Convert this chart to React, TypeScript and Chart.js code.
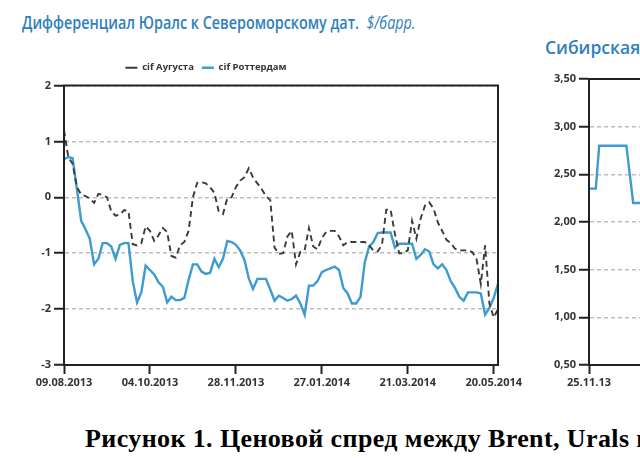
import { useEffect, useRef } from 'react'
import Chart from 'chart.js/auto'

// Left chart: Urals differential vs North Sea dated, $/bbl
const dateLabels = ['09.08.2013', '04.10.2013', '28.11.2013', '27.01.2014', '21.03.2014', '20.05.2014']
const dateTickIdx = [0, 40, 80, 120, 160, 200]
const STEP = 2 // trading days between points

const cifAugusta = [
  1.2, 0.72, 0.6, 0.18, 0.05, 0.02, -0.02, -0.1, 0.06, 0.04,
  0.0, -0.25, -0.33, -0.31, -0.23, -0.25, -0.84, -0.86, -0.82, -0.52,
  -0.6, -0.78, -0.68, -0.55, -0.62, -1.05, -1.08, -0.86, -0.8, -0.6,
  0.0, 0.26, 0.27, 0.25, 0.18, 0.08, -0.25, -0.3, -0.02, 0.0,
  0.18, 0.3, 0.36, 0.52, 0.35, 0.25, 0.15, 0.02, -0.05, -0.9,
  -1.01, -1.0, -0.7, -0.6, -1.2, -0.98, -0.95, -0.55, -0.88, -0.93,
  -0.73, -0.62, -0.6, -0.6, -0.7, -0.86, -0.8, -0.8, -0.8, -0.8,
  -0.8, -0.86, -0.95, -0.97, -0.85, -0.22, -0.22, -0.65, -1.0, -1.0,
  -0.95, -0.42, -0.74, -0.38, -0.15, -0.09, -0.2, -0.45, -0.6, -0.76,
  -0.82, -0.92, -0.95, -0.95, -0.95, -0.98, -1.1, -1.55, -0.86, -1.9,
  -2.15, -2.0,
]

const cifRotterdam = [
  0.68, 0.72, 0.7, 0.15, -0.42, -0.57, -0.74, -1.2, -1.1, -0.82,
  -0.82, -0.88, -1.1, -0.85, -0.82, -0.82, -1.5, -1.88, -1.7, -1.22,
  -1.3, -1.38, -1.52, -1.6, -1.88, -1.78, -1.84, -1.84, -1.8, -1.48,
  -1.2, -1.2, -1.33, -1.37, -1.35, -1.1, -1.25, -1.1, -0.78, -0.8,
  -0.85, -0.95, -1.12, -1.45, -1.64, -1.46, -1.46, -1.46, -1.65, -1.85,
  -1.76, -1.8, -1.85, -1.82, -1.76, -1.9, -2.1, -1.58, -1.58, -1.5,
  -1.34, -1.3, -1.27, -1.24, -1.3, -1.62, -1.72, -1.9, -1.9, -1.78,
  -1.16, -0.88, -0.8, -0.64, -0.63, -0.63, -0.63, -0.9, -0.83, -0.83,
  -0.83, -0.83, -1.1, -1.03, -0.93, -0.97, -1.2, -1.27, -1.2, -1.3,
  -1.5, -1.62, -1.78, -1.85, -1.7, -1.7, -1.7, -1.72, -2.1, -1.98,
  -1.8, -1.55,
]

// Right chart (cut off at the page edge)
const sibTickLabels = ['25.11.13']
const sibValues = [2.35, 2.35, 2.35, 2.8, 2.8, 2.8, 2.8, 2.8, 2.8, 2.8, 2.8, 2.8, 2.5, 2.2, 2.2, 2.2, 2.2]

const BLUE = '#3d9bd0'
const AXIS = '#222'
const LABEL_FONT = { family: 'Open Sans', size: 11, weight: 'bold' as const }

const framePlugin = {
  id: 'frame',
  afterDraw(chart: Chart) {
    const { ctx, chartArea: a } = chart
    ctx.save()
    ctx.strokeStyle = AXIS
    ctx.lineWidth = 2
    ctx.strokeRect(a.left, a.top, a.right - a.left, a.bottom - a.top)
    ctx.restore()
  },
}

// the legend in the source sits left of centre and a bit higher
const legendShift = {
  id: 'legendShift',
  afterLayout(chart: Chart) {
    const lg = chart.legend
    if (!lg) return
    lg.left -= 43
    lg.right -= 43
    lg.top -= 3
    lg.bottom -= 3
  },
}

function UralsChart() {
  const canvasRef = useRef<HTMLCanvasElement>(null)

  useEffect(() => {
    if (!canvasRef.current) return
    const chart = new Chart(canvasRef.current, {
      type: 'line',
      data: {
        datasets: [
          {
            label: 'cif Аугуста',
            data: cifAugusta.map((y, i) => ({ x: i * STEP, y })),
            borderColor: '#3a3a3a',
            borderWidth: 1.9,
            borderDash: [6, 4],
            pointRadius: 0,
            tension: 0,
          },
          {
            label: 'cif Роттердам',
            data: cifRotterdam.map((y, i) => ({ x: i * STEP, y })),
            borderColor: BLUE,
            borderWidth: 2.4,
            pointRadius: 0,
            tension: 0,
          },
        ],
      },
      options: {
        animation: false,
        responsive: true,
        maintainAspectRatio: false,
        layout: { padding: { top: 6, right: 62, left: 0, bottom: 0 } },
        plugins: {
          legend: {
            display: true,
            labels: {
              usePointStyle: true,
              pointStyle: 'line',
              pointStyleWidth: 12,
              color: '#333',
              padding: 8,
              font: { family: 'Open Sans', size: 9.5, weight: 'bold' },
            },
          },
          tooltip: { enabled: false },
        },
        scales: {
          x: {
            type: 'linear',
            min: 0,
            max: 202,
            afterBuildTicks: (s) => {
              s.ticks = dateTickIdx.map((v) => ({ value: v }))
            },
            afterFit: (s) => {
              s.height = 37
            },
            ticks: {
              color: '#333',
              font: LABEL_FONT,
              maxRotation: 0,
              autoSkip: false,
              padding: 2,
              callback: (v) => dateLabels[dateTickIdx.indexOf(Number(v))] ?? '',
            },
            grid: { drawOnChartArea: false, tickLength: 9, tickColor: AXIS, tickWidth: 2 },
            border: { color: AXIS, width: 2 },
          },
          y: {
            min: -3,
            max: 2,
            afterFit: (s) => {
              s.width = 64
            },
            ticks: { stepSize: 1, color: '#333', font: LABEL_FONT, padding: 3 },
            grid: { color: '#bdbdbd', lineWidth: 1.5, tickLength: 10, tickColor: AXIS, tickWidth: 2 },
            border: { color: AXIS, width: 2, dash: [4, 3] },
          },
        },
      },
      plugins: [framePlugin, legendShift],
    })
    return () => chart.destroy()
  }, [])

  return <canvas ref={canvasRef} />
}

function SiberianChart() {
  const canvasRef = useRef<HTMLCanvasElement>(null)

  useEffect(() => {
    if (!canvasRef.current) return
    const chart = new Chart(canvasRef.current, {
      type: 'line',
      data: {
        datasets: [
          {
            label: 'Сибирская',
            data: sibValues.map((y, i) => ({ x: i, y })),
            borderColor: BLUE,
            borderWidth: 2.4,
            pointRadius: 0,
            tension: 0,
          },
        ],
      },
      options: {
        animation: false,
        responsive: true,
        maintainAspectRatio: false,
        layout: { padding: { top: 27, right: 27, left: 0, bottom: 0 } },
        plugins: { legend: { display: false }, tooltip: { enabled: false } },
        scales: {
          x: {
            type: 'linear',
            min: 0,
            max: 60,
            afterBuildTicks: (s) => {
              s.ticks = [{ value: 0 }]
            },
            afterFit: (s) => {
              s.height = 37
            },
            ticks: {
              color: '#333',
              font: LABEL_FONT,
              maxRotation: 0,
              padding: 2,
              callback: (v) => sibTickLabels[Number(v)] ?? '',
            },
            grid: { drawOnChartArea: false, tickLength: 9, tickColor: AXIS, tickWidth: 2 },
            border: { color: AXIS, width: 2 },
          },
          y: {
            min: 0.5,
            max: 3.5,
            afterFit: (s) => {
              s.width = 69
            },
            ticks: {
              stepSize: 0.5,
              color: '#333',
              font: LABEL_FONT,
              padding: 3,
              callback: (v) => Number(v).toFixed(2).replace('.', ','),
            },
            grid: { color: '#bdbdbd', lineWidth: 1.5, tickLength: 10, tickColor: AXIS, tickWidth: 2 },
            border: { color: AXIS, width: 2, dash: [4, 3] },
          },
        },
      },
      plugins: [framePlugin],
    })
    return () => chart.destroy()
  }, [])

  return <canvas ref={canvasRef} />
}

export default function App() {
  return (
    <div
      style={{
        position: 'fixed',
        left: 0,
        top: 0,
        width: 640,
        height: 458,
        overflow: 'hidden',
        background: '#fff',
        fontFamily: 'Open Sans, sans-serif',
      }}
    >
      <div
        style={{
          position: 'absolute',
          left: 22,
          top: 10,
          fontSize: 17.5,
          fontWeight: 600,
          color: '#2f80bd',
          whiteSpace: 'nowrap',
          transform: 'scaleX(0.82)',
          transformOrigin: 'left top',
        }}
      >
        Дифференциал Юралс к Североморскому дат.&nbsp; <i style={{ fontWeight: 400 }}>$/барр.</i>
      </div>
      <div
        style={{
          position: 'absolute',
          left: 545,
          top: 35,
          fontSize: 17.5,
          fontWeight: 600,
          color: '#2f80bd',
          whiteSpace: 'nowrap',
        }}
      >
        Сибирская
      </div>
      <div style={{ position: 'absolute', left: 0, top: 52, width: 560, height: 350 }}>
        <UralsChart />
      </div>
      <div style={{ position: 'absolute', left: 520, top: 52, width: 300, height: 350 }}>
        <SiberianChart />
      </div>
      <div
        style={{
          position: 'absolute',
          left: 85,
          top: 426,
          fontFamily: '"Liberation Serif", serif',
          fontWeight: 'bold',
          fontSize: 26,
          lineHeight: 1,
          letterSpacing: 0.4,
          color: '#000',
          whiteSpace: 'nowrap',
        }}
      >
        Рисунок 1. Ценовой спред между Brent, Urals и
      </div>
    </div>
  )
}
